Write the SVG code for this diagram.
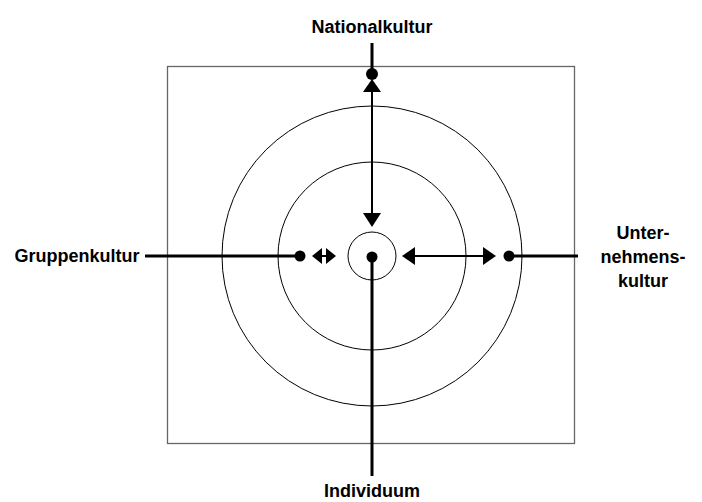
<svg xmlns="http://www.w3.org/2000/svg" width="702" height="502" viewBox="0 0 702 502">
<style>
.lbl{font-family:"Liberation Sans",Arial,sans-serif;font-size:18px;font-weight:bold;fill:#000;text-anchor:middle}
.ring{fill:none;stroke:#000;stroke-width:1}
.thick{stroke:#000;stroke-width:3;fill:none}
.thin{stroke:#000;stroke-width:2;fill:none}
.dot{fill:#000}
.head{fill:#000}
</style>
<rect x="167.5" y="66.5" width="407" height="377" fill="none" stroke="#666" stroke-width="1.3"/>
<g id="rings">
<circle class="ring" cx="372" cy="256" r="150"/>
<circle class="ring" cx="372" cy="256" r="94"/>
<circle class="ring" cx="372" cy="256" r="24"/>
</g>
<g id="connectors">
<line class="thick" x1="372" y1="43" x2="372" y2="74"/>
<line class="thick" x1="372" y1="257" x2="372" y2="476"/>
<line class="thick" x1="145" y1="256" x2="300" y2="256"/>
<line class="thick" x1="508" y1="256" x2="578" y2="256"/>
<line class="thin" x1="372" y1="88" x2="372" y2="215"/>
<polygon class="head" points="372,79 363,92 381,92"/>
<polygon class="head" points="372,227 363,213 381,213"/>
<line class="thin" x1="320" y1="256" x2="328" y2="256"/>
<polygon class="head" points="312,256 322,248 322,264"/>
<polygon class="head" points="336,256 326,248 326,264"/>
<line class="thin" x1="412" y1="256" x2="486" y2="256"/>
<polygon class="head" points="402,256 415,247 415,265"/>
<polygon class="head" points="496,256 483,247 483,265"/>
</g>
<g id="dots">
<circle class="dot" cx="372" cy="74" r="6"/>
<circle class="dot" cx="372" cy="257" r="5.5"/>
<circle class="dot" cx="300" cy="256" r="5.5"/>
<circle class="dot" cx="509" cy="256" r="5.5"/>
</g>
<g id="n-national"><text class="lbl" x="372" y="33">Nationalkultur</text></g>
<g id="n-individuum"><text class="lbl" x="372" y="497">Individuum</text></g>
<g id="n-gruppe"><text class="lbl" x="77" y="262">Gruppenkultur</text></g>
<g id="n-unternehmen"><text class="lbl"><tspan x="643" y="239">Unter-</tspan><tspan x="643" y="263">nehmens-</tspan><tspan x="643" y="287">kultur</tspan></text></g>
</svg>
